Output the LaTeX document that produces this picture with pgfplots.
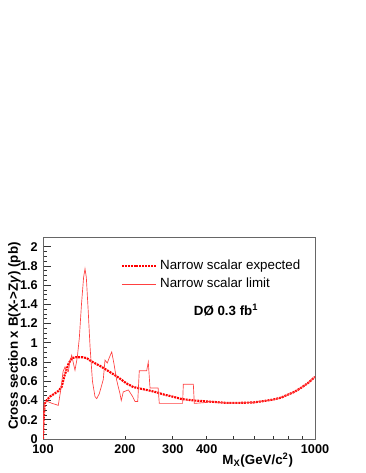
\documentclass[border=0pt]{standalone}
\usepackage{pgfplots}
\pgfplotsset{compat=1.18}
\usepackage{fontspec}
\setmainfont{Liberation Sans}

\begin{document}
\begin{tikzpicture}
\useasboundingbox (0pt,0pt) rectangle (274.5pt,354.75pt);
\begin{axis}[
  at={(32.25pt,25.5pt)}, anchor=south west,
  scale only axis, width=204pt, height=151.5pt,
  xmode=log, xmin=100, xmax=1000, ymin=0, ymax=2.1,
  axis line style={black!60, line width=0.6pt},
  tick pos=left, tick align=inside,
  xtick={100,200,300,400,500,600,700,800,900,1000},
  xticklabels={100,200,300,400,,,,,,1000},
  minor xtick={},
  ytick={0,0.2,0.4,0.6,0.8,1,1.2,1.4,1.6,1.8,2},
  yticklabels={0,0.2,0.4,0.6,0.8,1,1.2,1.4,1.6,1.8,2},
  minor y tick num=3,
  major tick length=6pt, minor tick length=3pt,
  every tick/.style={black!80, line width=0.5pt},
  x tick style={/pgfplots/major tick length=2.5pt},
  tick label style={font=\bfseries\fontsize{9.5}{10}\selectfont},
  x tick label style={yshift=-1pt},
  y tick label style={xshift=-0.5pt},
  xlabel={\textbf{M\textsubscript{X}(GeV/c\textsuperscript{2})}},
  xlabel style={at={(axis description cs:0.92,-0.07)}, anchor=north east,
    inner sep=0pt, font=\fontsize{10}{12}\selectfont},
  ylabel={\textbf{Cross section x B(X->Z\textit{γ}) (pb)}},
  ylabel style={at={(axis description cs:-0.129,0.975)}, anchor=north east,
    inner sep=0pt, font=\fontsize{10}{12}\selectfont},
  legend style={draw=none, fill=none, at={(axis description cs:0.27,0.915)},
    anchor=north west, font=\fontsize{10}{12}\selectfont, row sep=1pt},
  legend cell align=left,
  legend image code/.code={\draw[#1] (0pt,0pt) -- (26pt,0pt);},
]
\addplot[red, line width=1.6pt, dash pattern=on 1.5pt off 0.7pt] coordinates {
  (100,0) (100.5,0.2) (101.5,0.37) (103,0.40) (106,0.44) (110,0.47)
  (114,0.50) (117,0.54) (120,0.66) (124,0.78) (127.5,0.84) (132,0.85)
  (140,0.85) (145,0.84) (150,0.81) (162,0.76) (172,0.715) (187,0.65)
  (200,0.59) (205,0.57) (215,0.54) (227,0.525) (245,0.505) (262,0.485)
  (280,0.46) (300,0.44) (324,0.415) (360,0.40) (404,0.39) (473,0.375)
  (520,0.375) (594,0.38) (650,0.395) (702,0.41) (750,0.43) (786,0.455)
  (840,0.49) (881,0.525) (940,0.58) (1000,0.645)
};
\addlegendentry{Narrow scalar expected}
\addplot[red!75, line width=0.5pt] coordinates {
  (100,0) (100.6,0.25) (101.5,0.38) (104,0.39) (108,0.37) (111,0.36)
  (113.8,0.35) (116.2,0.51) (118.5,0.70) (120.5,0.75) (122,0.71)
  (123.9,0.70) (125.5,0.80) (127.5,0.87) (129.5,0.78) (131.1,0.715)
  (133.7,0.85) (136,1.05) (138.5,1.40) (141,1.68) (142.7,1.77)
  (144.3,1.68) (146.5,1.35) (149,0.95) (152,0.60) (155.3,0.44)
  (157.6,0.42) (161,0.47) (164.4,0.56) (166.6,0.62) (169,0.82)
  (172.3,0.79) (175.5,0.85) (178.9,0.905) (182.4,0.78) (186.6,0.61)
  (191.9,0.47) (194,0.40) (197.3,0.49) (206,0.51) (213.7,0.44)
  (217.9,0.39) (223,0.39) (225.9,0.71) (240.5,0.71) (243.8,0.80)
  (247.4,0.53) (265,0.53) (267.6,0.37) (326,0.37) (328,0.57) (357,0.57)
  (360,0.37) (400,0.38) (404,0.39) (473,0.375) (520,0.375) (594,0.38)
  (650,0.395) (702,0.41) (750,0.43) (786,0.455) (840,0.49) (881,0.525)
  (940,0.58) (1000,0.645)
};
\addlegendentry{Narrow scalar limit}
\node[font=\bfseries\fontsize{10}{12}\selectfont] at (axis description cs:0.673,0.639)
  {DØ 0.3 fb\textsuperscript{1}};
\end{axis}
\end{tikzpicture}
\end{document}
